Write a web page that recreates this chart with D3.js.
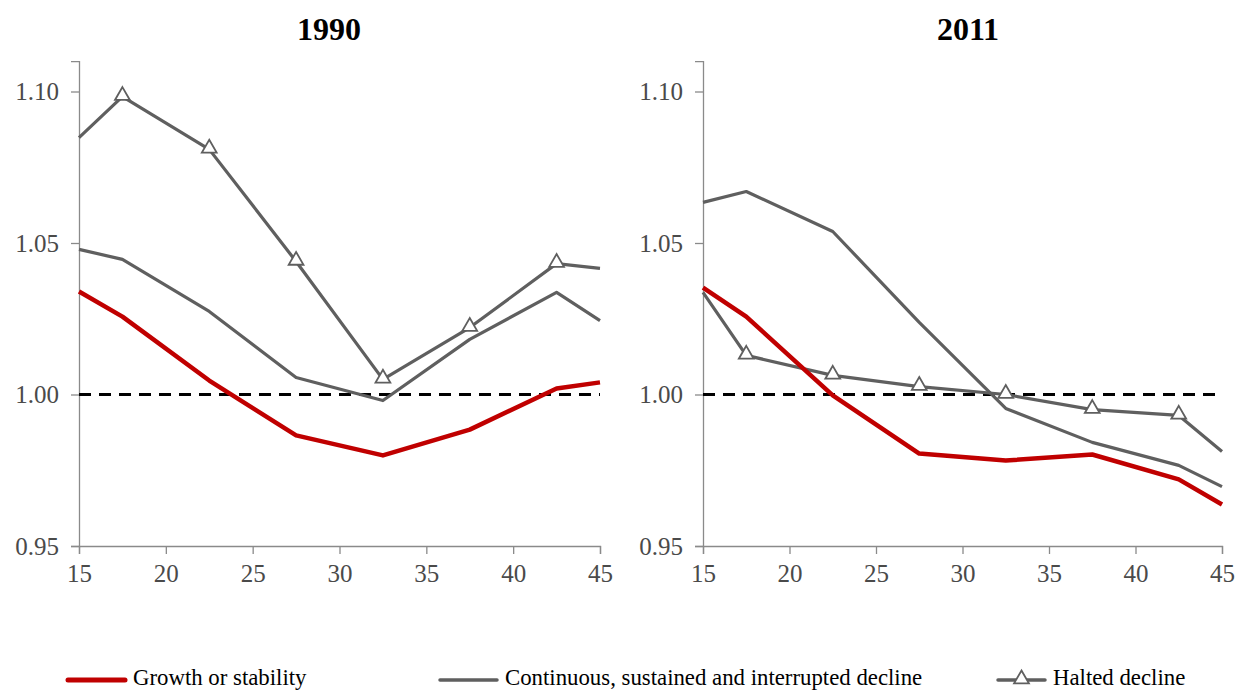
<!DOCTYPE html>
<html><head><meta charset="utf-8">
<script src="https://cdn.jsdelivr.net/npm/d3@7"></script>
<style>body{margin:0;background:#fff}svg{display:block}</style>
</head><body>
<svg id="c" width="1237" height="690"></svg>
<script>
const ages = [15, 17.5, 22.5, 27.5, 32.5, 37.5, 42.5, 45];
const xTicks = [15, 20, 25, 30, 35, 40, 45];
const yTicks = [0.95, 1.00, 1.05, 1.10];
const panelTitles = ["1990", "2011"];
const seriesNames = ["Growth or stability", "Continuous, sustained and interrupted decline", "Halted decline"];

const growth1990 = [1.034, 1.0257, 1.0046, 0.9865, 0.9799, 0.9884, 1.002, 1.004];
const continuous1990 = [1.0479, 1.0446, 1.0274, 1.0056, 0.998, 1.0182, 1.0337, 1.0244];
const halted1990 = [1.0848, 1.0983, 1.0809, 1.0439, 1.005, 1.0221, 1.0432, 1.0416];

const growth2011 = [1.0353, 1.0257, 0.9997, 0.9805, 0.9782, 0.9802, 0.972, 0.9637];
const continuous2011 = [1.0634, 1.067, 1.0538, 1.0238, 0.9954, 0.9842, 0.9766, 0.9696];
const halted2011 = [1.0337, 1.0129, 1.0063, 1.0026, 1.000, 0.995, 0.9931, 0.9812];

const svg = d3.select("#c");
const panels = [
  {title: panelTitles[0], x0: 79, x1: 600, cx: 329, data: [growth1990, continuous1990, halted1990]},
  {title: panelTitles[1], x0: 703, x1: 1222, cx: 968, data: [growth2011, continuous2011, halted2011]}
];
const RED = "#c00000", GRAY = "#5f5f5f", AX = "#8a8a8a";
const y = d3.scaleLinear().domain([0.95, 1.11]).range([546, 61.2]);

panels.forEach(p => {
  const g = svg.append("g");
  const x = d3.scaleLinear().domain([15, 45]).range([p.x0, p.x1]);
  g.append("text").attr("x", p.cx).attr("y", 40).attr("text-anchor", "middle")
    .attr("font-family", "Liberation Serif").attr("font-weight", "bold").attr("font-size", 32)
    .attr("fill", "#000").text(p.title);

  const ya = g.append("g").attr("transform", `translate(${p.x0},0)`)
    .call(d3.axisLeft(y).tickValues(yTicks).tickFormat(d3.format(".2f")).tickSize(8).tickPadding(12));
  const xa = g.append("g").attr("transform", `translate(0,546)`)
    .call(d3.axisBottom(x).tickValues(xTicks).tickSize(8).tickPadding(10));
  [ya, xa].forEach(a => {
    a.select(".domain").attr("stroke", AX).attr("stroke-width", 1.3);
    a.selectAll(".tick line").attr("stroke", AX).attr("stroke-width", 1.3);
    a.selectAll("text").attr("font-family", "Liberation Serif").attr("font-size", 25).attr("fill", "#4a4a4a");
  });

  // reference line
  g.append("line").attr("x1", x(15)).attr("x2", x(45)).attr("y1", y(1)).attr("y2", y(1))
    .attr("stroke", "#000").attr("stroke-width", 3.2).attr("stroke-dasharray", "12,8");

  const line = d3.line().x((d, i) => x(ages[i])).y(d => y(d));
  const styles = [{c: RED, w: 4.5}, {c: GRAY, w: 3.2}, {c: GRAY, w: 3.2}];
  [1, 2, 0].forEach(k => {
    g.append("path").datum(p.data[k]).attr("d", line).attr("fill", "none")
      .attr("stroke", styles[k].c).attr("stroke-width", styles[k].w).attr("stroke-linejoin", "round");
  });
  const tri = d3.symbol().type(d3.symbolTriangle).size(95);
  g.selectAll(".tri").data(p.data[2].map((v, i) => ({v, a: ages[i]})).filter(d => d.a > 15 && d.a < 45))
    .enter().append("path").attr("d", tri)
    .attr("transform", d => `translate(${x(d.a)},${y(d.v) - 1})`)
    .attr("fill", "#fff").attr("stroke", GRAY).attr("stroke-width", 1.8);
});

// legend
const leg = svg.append("g").attr("font-family", "Liberation Serif").attr("font-size", 22.8);
const items = [
  {x1: 68, x2: 125, tx: 133, c: RED, w: 5, tri: false},
  {x1: 440, x2: 497, tx: 505, c: GRAY, w: 3.5, tri: false},
  {x1: 998, x2: 1045, tx: 1053, c: GRAY, w: 3.5, tri: true}
];
items.forEach((it, i) => {
  leg.append("line").attr("x1", it.x1).attr("x2", it.x2).attr("y1", 680).attr("y2", 680)
    .attr("stroke", it.c).attr("stroke-width", it.w).attr("stroke-linecap", "round");
  if (it.tri) {
    leg.append("path").attr("d", d3.symbol().type(d3.symbolTriangle).size(95))
      .attr("transform", `translate(${(it.x1 + it.x2) / 2},679)`)
      .attr("fill", "#fff").attr("stroke", GRAY).attr("stroke-width", 1.8);
  }
  leg.append("text").attr("x", it.tx).attr("y", 685).attr("fill", "#000").text(seriesNames[i]);
});
</script>
</body></html>
